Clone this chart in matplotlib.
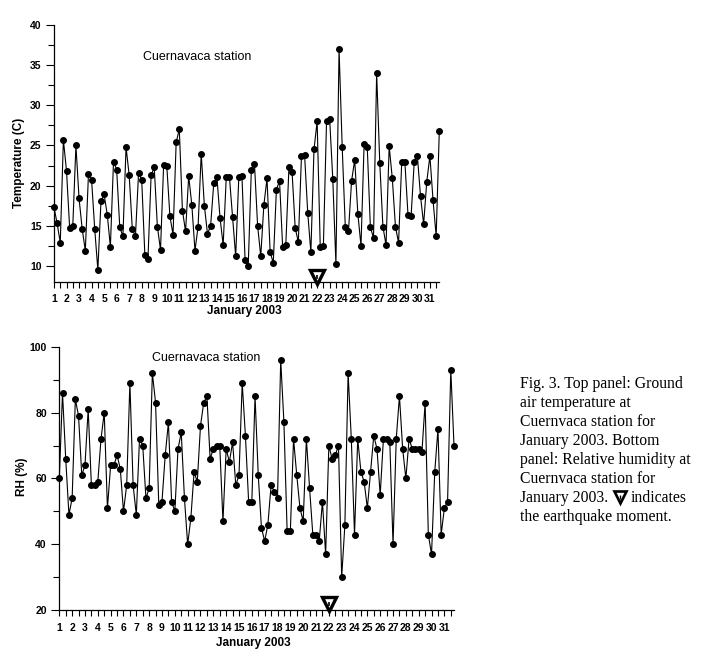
import matplotlib
matplotlib.use("Agg")
import matplotlib.pyplot as plt
import numpy as np

# ---------------- data ----------------
temperature = [
    17.3, 15.3, 12.9, 25.7, 21.8, 14.7, 15.0, 25.0, 18.4, 14.6, 11.9, 21.4,
    20.7, 14.6, 9.5, 18.1, 18.9, 16.4, 12.4, 23.0, 22.0, 14.8, 13.7, 24.8,
    21.3, 14.6, 13.7, 21.6, 20.7, 11.4, 10.9, 21.3, 22.3, 14.9, 12.0, 22.6,
    22.5, 16.2, 13.9, 25.4, 27.0, 16.9, 14.3, 21.2, 17.6, 11.9, 14.9, 24.0,
    17.5, 14.0, 15.0, 20.3, 21.1, 16.0, 12.6, 21.1, 21.1, 16.1, 11.2, 21.1,
    21.2, 10.7, 10.0, 22.0, 22.7, 15.0, 11.2, 17.6, 20.9, 11.7, 10.4, 19.5,
    20.6, 12.3, 12.6, 22.3, 21.7, 14.7, 13.0, 23.7, 23.8, 16.6, 11.7, 24.5,
    28.0, 12.3, 12.5, 28.0, 28.3, 20.8, 10.2, 37.0, 24.8, 14.8, 14.3, 20.6,
    23.2, 16.5, 12.5, 25.2, 24.8, 14.8, 13.5, 34.0, 22.8, 14.9, 12.6, 24.9,
    20.9, 14.9, 12.9, 22.9, 23.0, 16.4, 16.2, 23.0, 23.7, 18.7, 15.2, 20.5,
    23.7, 18.2, 13.7, 26.8,
]
humidity = [
    60, 86, 66, 49, 54, 84, 79, 61, 64, 81, 58, 58,
    59, 72, 80, 51, 64, 64, 67, 63, 50, 58, 89, 58,
    49, 72, 70, 54, 57, 92, 83, 52, 53, 67, 77, 53,
    50, 69, 74, 54, 40, 48, 62, 59, 76, 83, 85, 66,
    69, 70, 70, 47, 69, 65, 71, 58, 61, 89, 73, 53,
    53, 85, 61, 45, 41, 46, 58, 56, 54, 96, 77, 44,
    44, 72, 61, 51, 47, 72, 57, 43, 43, 41, 53, 37,
    70, 66, 67, 70, 30, 46, 92, 72, 43, 72, 62, 59,
    51, 62, 73, 69, 55, 72, 72, 71, 40, 72, 85, 69,
    60, 72, 69, 69, 69, 68, 83, 43, 37, 62, 75, 43,
    51, 53, 93, 70,
]
start_day = 1.0
samples_per_day = 4          # 6-hourly observations
day_ticks = list(range(1, 32))
earthquake_day = 22
station_label = "Cuernavaca station"
xlabel = "January 2003"
temp_ylabel = "Temperature (C)"
rh_ylabel = "RH (%)"
caption_lines = [
    "Fig. 3. Top panel: Ground",
    "air temperature at",
    "Cuernvaca station for",
    "January 2003. Bottom",
    "panel: Relative humidity at",
    "Cuernvaca station for",
    "January 2003.",
    "the earthquake moment.",
]
caption_after_symbol = "indicates"

days_t = start_day + np.arange(len(temperature)) / samples_per_day
days_h = start_day + np.arange(len(humidity)) / samples_per_day

# ---------------- figure ----------------
W, H = 710, 670
fig = plt.figure(figsize=(W / 100, H / 100), dpi=100)
SANS = ["Liberation Sans", "DejaVu Sans"]
SERIF = ["Liberation Serif", "DejaVu Serif"]


def px_axes(x0, y0, x1, y1):
    return fig.add_axes([x0 / W, 1 - y1 / H, (x1 - x0) / W, (y1 - y0) / H])


def quake_marker(ax, x, y, size, trans=None):
    kw = dict(clip_on=False, zorder=5)
    if trans is not None:
        kw["transform"] = trans
    ax.plot([x], [y], marker="v", ms=size, mfc="white", mec="black",
            mew=size * 0.24, ls="none", **kw)
    ax.plot([x], [y], marker="|", ms=size * 0.35, mec="black",
            mew=size * 0.12, ls="none", **kw)


def style_axes(ax, ymin, ymax, ymajor, yminor, ystart, label, label_xy,
               xlabel_xy):
    ax.set_xlim(1, 31.75)
    ax.set_ylim(ymin, ymax)
    for s in ("top", "right"):
        ax.spines[s].set_visible(False)
    for s in ("left", "bottom"):
        ax.spines[s].set_linewidth(0.9)
    ax.set_xticks(day_ticks)
    ax.set_xticks(np.arange(1.5, 32, 1.0), minor=True)
    ax.set_yticks(np.arange(ystart, ymax + 0.01, ymajor))
    ax.set_yticks(np.arange(ystart, ymax + 0.01, yminor), minor=True)
    ax.tick_params(axis="x", which="both", direction="out", length=4,
                   width=0.8, pad=5)
    ax.tick_params(axis="y", which="major", direction="out", length=6,
                   width=0.8, pad=3)
    ax.tick_params(axis="y", which="minor", direction="out", length=4,
                   width=0.8)
    for t in ax.get_xticklabels():
        t.set_fontfamily(SANS)
        t.set_fontweight("bold")
        t.set_fontsize(7.5)
    for t in ax.get_yticklabels():
        t.set_fontfamily(SANS)
        t.set_fontweight("bold")
        t.set_fontsize(7.5)
    ax.set_ylabel(label, family=SANS, fontweight="bold", fontsize=8.5)
    ax.yaxis.set_label_coords(*label_xy)
    ax.set_xlabel(xlabel, family=SANS, fontweight="bold", fontsize=8.5)
    ax.xaxis.set_label_coords(*xlabel_xy)


# ---- top panel ----
ax1 = px_axes(54, 25, 439.3, 282)
ax1.plot(days_t, temperature, color="black", lw=0.8, marker="o", ms=4,
         mfc="black", mec="black", clip_on=False)
style_axes(ax1, 8, 40, 5, 2.5, 10, temp_ylabel, (-0.075, 0.465),
           (0.494, -0.09))
ax1.text(0.231, 0.874, station_label, transform=ax1.transAxes, family=SANS,
         fontsize=9, ha="left", va="center")
quake_marker(ax1, earthquake_day, 8.6, 10)

# ---- bottom panel ----
ax2 = px_axes(59.3, 346.7, 454, 610.3)
ax2.plot(days_h, humidity, color="black", lw=0.8, marker="o", ms=4,
         mfc="black", mec="black", clip_on=False)
style_axes(ax2, 20, 100, 20, 10, 20, rh_ylabel, (-0.079, 0.507),
           (0.491, -0.1))
ax2.text(0.234, 0.959, station_label, transform=ax2.transAxes, family=SANS,
         fontsize=9, ha="left", va="center")
quake_marker(ax2, earthquake_day, 21.8, 10)

# ---- caption ----
cap_x = 520
cap_fs = 11.3
line_h = 19.03
texts = []
for k, line in enumerate(caption_lines):
    yc = 382.7 + line_h * k
    texts.append(fig.text(cap_x / W, 1 - (yc + 5) / H, line, family=SERIF,
                          fontsize=cap_fs, ha="left", va="baseline"))
fig.canvas.draw()
renderer = fig.canvas.get_renderer()
bb = texts[6].get_window_extent(renderer)
end_px = bb.x1  # pixels from left
yc7 = 382.7 + line_h * 6
tri_x = end_px + 12
quake_marker(ax1, tri_x / W, 1 - yc7 / H, 8, trans=fig.transFigure)
fig.text((tri_x + 11) / W, 1 - (yc7 + 5) / H, caption_after_symbol,
         family=SERIF, fontsize=cap_fs, ha="left", va="baseline")

fig.savefig("out.png", dpi=100)
